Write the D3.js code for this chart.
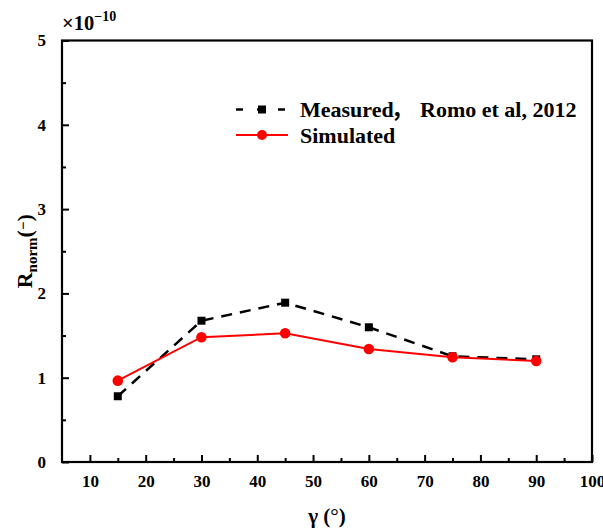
<!DOCTYPE html>
<html><head><meta charset="utf-8">
<script src="https://cdn.jsdelivr.net/npm/d3@7"></script>
<style>body{margin:0;background:#fff}svg{display:block}text{font-family:"Liberation Serif","Times New Roman",serif}</style>
</head><body><svg id="c" width="603" height="529"></svg>
<script>
const angles = [15, 30, 45, 60, 75, 90];
const measured = [0.78, 1.676, 1.89, 1.598, 1.254, 1.218];
const simulated = [0.965, 1.48, 1.527, 1.34, 1.242, 1.198];
const xTicks = [10, 20, 30, 40, 50, 60, 70, 80, 90, 100];
const yTicks = [0, 1, 2, 3, 4, 5];
const seriesNames = ["Measured", "，", "Romo et al, 2012", "Simulated"];

const svg = d3.select("#c");
const L = 62, R = 592, T = 40.5, B = 462;
const x = d3.scaleLinear().domain([5, 100]).range([L, R]);
const y = d3.scaleLinear().domain([0, 5]).range([B, T]);

// frame
svg.append("rect").attr("x", L).attr("y", T).attr("width", R - L).attr("height", B - T)
  .attr("fill", "none").attr("stroke", "#000").attr("stroke-width", 2.2);

// x axis
const xa = svg.append("g").attr("transform", `translate(0,${B})`)
  .call(d3.axisBottom(x).tickValues(xTicks).tickSize(-7).tickPadding(13).tickFormat(d3.format("d")));
xa.select(".domain").remove();
xa.selectAll("line").attr("stroke-width", 2);
xa.selectAll("text").attr("font-size", 17).attr("font-weight", "bold").attr("font-family", "Liberation Serif");
const xm = svg.append("g").attr("transform", `translate(0,${B})`)
  .call(d3.axisBottom(x).tickValues(d3.range(15, 100, 10)).tickSize(-4).tickFormat(""));
xm.select(".domain").remove();
xm.selectAll("line").attr("stroke-width", 2);

// y axis
const ya = svg.append("g").attr("transform", `translate(${L},0)`)
  .call(d3.axisLeft(y).tickValues(yTicks).tickSize(-7).tickPadding(16).tickFormat(d3.format("d")));
ya.select(".domain").remove();
ya.selectAll("line").attr("stroke-width", 2);
ya.selectAll("text").attr("font-size", 17).attr("font-weight", "bold").attr("font-family", "Liberation Serif");
const ym = svg.append("g").attr("transform", `translate(${L},0)`)
  .call(d3.axisLeft(y).tickValues(d3.range(0.5, 5, 1)).tickSize(-4).tickFormat(""));
ym.select(".domain").remove();
ym.selectAll("line").attr("stroke-width", 2);

// exponent factor
const ex = svg.append("text").attr("x", L).attr("y", 30).attr("font-size", 20.5).attr("font-weight", "bold");
ex.append("tspan").text("×10");
ex.append("tspan").attr("dy", -9).attr("font-size", 14).text("−10");

// axis titles
const xt = svg.append("text").attr("x", (L + R) / 2).attr("y", 523).attr("text-anchor", "middle")
  .attr("font-size", 21).attr("font-weight", "bold");
xt.append("tspan").text("γ (");
xt.append("tspan").attr("font-weight", "normal").text("°");
xt.append("tspan").text(")");

const yt = svg.append("text").attr("transform", `translate(32,${(T + B) / 2}) rotate(-90)`)
  .attr("text-anchor", "middle").attr("font-size", 22).attr("font-weight", "bold");
yt.append("tspan").text("R");
yt.append("tspan").attr("font-size", 15).attr("dy", 5).text("norm");
yt.append("tspan").attr("dy", -5).text("(");
yt.append("tspan").attr("dy", -4).attr("font-size", 15).text("−");
yt.append("tspan").attr("dy", 4).text(")");

// lines
const line = d3.line().x((d, i) => x(angles[i])).y(d => y(d));
svg.append("path").datum(measured).attr("d", line).attr("fill", "none")
  .attr("stroke", "#000").attr("stroke-width", 2.5).attr("stroke-dasharray", "11,8");
svg.selectAll(".sq").data(measured).enter().append("rect")
  .attr("x", (d, i) => x(angles[i]) - 4).attr("y", d => y(d) - 4)
  .attr("width", 8).attr("height", 8).attr("fill", "#000");
svg.append("path").datum(simulated).attr("d", line).attr("fill", "none")
  .attr("stroke", "#ff0000").attr("stroke-width", 2);
svg.selectAll(".ci").data(simulated).enter().append("circle")
  .attr("cx", (d, i) => x(angles[i])).attr("cy", d => y(d)).attr("r", 5.3).attr("fill", "#ff0000");

// legend
const lg = svg.append("g");
const rows = [109.5, 135];
lg.append("line").attr("x1", 236).attr("x2", 288).attr("y1", rows[0]).attr("y2", rows[0])
  .attr("stroke", "#000").attr("stroke-width", 2.5).attr("stroke-dasharray", "7,14");
lg.append("rect").attr("x", 258).attr("y", rows[0] - 4).attr("width", 8).attr("height", 8).attr("fill", "#000");
lg.append("line").attr("x1", 236).attr("x2", 288).attr("y1", rows[1]).attr("y2", rows[1])
  .attr("stroke", "#ff0000").attr("stroke-width", 2);
lg.append("circle").attr("cx", 262).attr("cy", rows[1]).attr("r", 5).attr("fill", "#ff0000");
const t0 = lg.append("text").attr("x", 300).attr("y", rows[0] + 7.5).attr("font-size", 22).attr("font-weight", "bold");
t0.append("tspan").text(seriesNames[0]);
t0.append("tspan").attr("x", 391).attr("font-family", "Noto Sans CJK SC").text(seriesNames[1]);
t0.append("tspan").attr("x", 420).text(seriesNames[2]);
lg.append("text").attr("x", 300).attr("y", rows[1] + 7.5).attr("font-size", 22)
  .attr("font-weight", "bold").text(seriesNames[3]);
</script></body></html>
